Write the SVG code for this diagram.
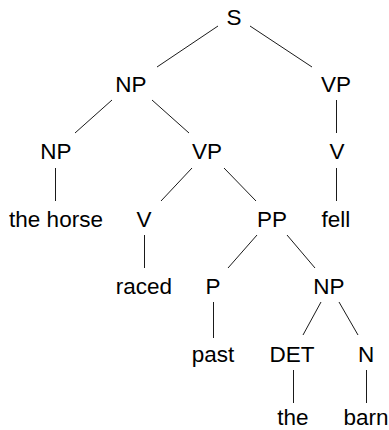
<svg xmlns="http://www.w3.org/2000/svg" width="389" height="430" viewBox="0 0 389 430">
  <style>
    text { font-family: "Liberation Sans", "DejaVu Sans", sans-serif; font-size: 22.5px; fill: #000; text-anchor: middle; }
    .edge { stroke: #000; stroke-width: 0.9; fill: none; }
  </style>
  <rect width="389" height="430" fill="#fff"/>
  <g id="connectors">
    <line class="edge" x1="218" y1="26" x2="157" y2="67"/>
    <line class="edge" x1="250" y1="26" x2="312" y2="67"/>
    <line class="edge" x1="112" y1="100" x2="75" y2="133"/>
    <line class="edge" x1="152" y1="100" x2="189" y2="133"/>
    <line class="edge" x1="336.5" y1="100" x2="336.5" y2="133"/>
    <line class="edge" x1="55.5" y1="168" x2="55.5" y2="201"/>
    <line class="edge" x1="192" y1="168" x2="161" y2="201"/>
    <line class="edge" x1="224" y1="168" x2="256" y2="201"/>
    <line class="edge" x1="336.5" y1="168" x2="336.5" y2="201"/>
    <line class="edge" x1="144.5" y1="235" x2="144.5" y2="268"/>
    <line class="edge" x1="257" y1="235" x2="228" y2="268"/>
    <line class="edge" x1="287" y1="235" x2="315" y2="268"/>
    <line class="edge" x1="213.5" y1="302" x2="213.5" y2="338"/>
    <line class="edge" x1="321" y1="302" x2="303" y2="335"/>
    <line class="edge" x1="339" y1="302" x2="358" y2="335"/>
    <line class="edge" x1="293.5" y1="370" x2="293.5" y2="403"/>
    <line class="edge" x1="366.5" y1="370" x2="366.5" y2="403"/>
  </g>
  <g id="S"><text x="234" y="25">S</text></g>
  <g id="NP1"><text x="131" y="92">NP</text></g>
  <g id="VP1"><text x="336" y="92">VP</text></g>
  <g id="NP2"><text x="56" y="159">NP</text></g>
  <g id="VP2"><text x="207" y="159">VP</text></g>
  <g id="V1"><text x="337" y="159">V</text></g>
  <g id="w-the-horse"><text x="56" y="227">the horse</text></g>
  <g id="V2"><text x="144" y="227">V</text></g>
  <g id="PP"><text x="272" y="227">PP</text></g>
  <g id="w-fell"><text x="336" y="227">fell</text></g>
  <g id="w-raced"><text x="144" y="294">raced</text></g>
  <g id="P"><text x="213" y="294">P</text></g>
  <g id="NP3"><text x="329" y="294">NP</text></g>
  <g id="w-past"><text x="213" y="362">past</text></g>
  <g id="DET"><text x="292" y="362">DET</text></g>
  <g id="N"><text x="366" y="362">N</text></g>
  <g id="w-the"><text x="293" y="425">the</text></g>
  <g id="w-barn"><text x="366" y="425">barn</text></g>
</svg>
